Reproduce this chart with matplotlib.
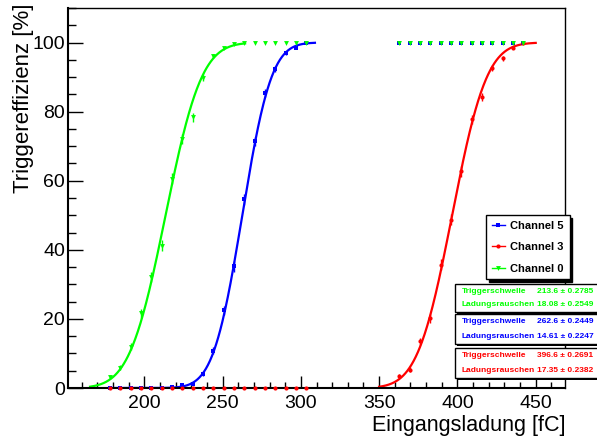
import math
import matplotlib
matplotlib.use("Agg")
import matplotlib.pyplot as plt
from matplotlib.lines import Line2D
from matplotlib.patches import Rectangle
from matplotlib.ticker import MultipleLocator
import numpy as np

plt.rcParams['font.family'] = ['Liberation Sans', 'DejaVu Sans']

# charge steps (fC)
x_low = [178.1, 184.7, 191.3, 197.9, 204.5, 211.1, 217.7, 224.3, 230.9, 237.5,
         244.1, 250.7, 257.3, 263.9, 270.5, 277.1, 283.7, 290.3, 296.9, 303.5]
x_high = [362.8, 369.4, 376.0, 382.6, 389.2, 395.8, 402.4, 409.0, 415.6, 422.2,
          428.8, 435.4, 442.0]

# Channel 5 (blue)
ch5_low = [0, 0, 0, 0, 0, 0, 0.2, 0.8, 1.2, 4.1, 10.8, 22.5, 35.2, 54.7, 71.4,
           85.4, 92.3, 96.9, 98.4, 99.8]
ch5_low_err = [0.1, 0.1, 0.1, 0.1, 0.1, 0.1, 0.2, 0.3, 0.4, 0.6, 1.0, 1.3, 1.5,
               1.6, 1.4, 1.1, 0.8, 0.6, 0.4, 0.2]
ch5_high = [100] * 13

# Channel 3 (red)
ch3_low = [0] * 20
ch3_high = [3.4, 5.3, 13.5, 20.2, 35.7, 48.7, 62.7, 77.8, 84.2, 92.6, 95.5, 98.4, 99.8]
ch3_high_err = [0.6, 0.7, 1.1, 1.3, 1.5, 1.6, 1.5, 1.3, 1.2, 0.8, 0.7, 0.4, 0.2]

# Channel 0 (green)
ch0_low = [3.1, 5.9, 12.0, 21.7, 32.1, 41.2, 60.6, 72.1, 78.4, 89.8, 96.2, 98.4,
           99.6, 100, 100, 100, 100, 100, 100, 100]
ch0_low_err = [0.6, 0.8, 1.0, 1.3, 1.5, 1.6, 1.5, 1.4, 1.3, 1.0, 0.6, 0.4, 0.2,
               0.1, 0.1, 0.1, 0.1, 0.1, 0.1, 0.1]
ch0_high = [100] * 13

# fit results: threshold (mean) and noise (sigma)
labels = ["Channel 5", "Channel 3", "Channel 0"]
colors = ["#0000ff", "#ff0000", "#00ff00"]
thresh = [262.6, 396.6, 213.6]
thresh_err = ["0.2449", "0.2691", "0.2785"]
noise = [14.61, 17.35, 18.08]
noise_err = ["0.2247", "0.2382", "0.2549"]
fit_range = [(178, 309), (350, 450), (165.4, 264.4)]
markers = ["s", "o", "v"]
msizes = [3.5, 3.0, 3.5]


def erf_curve(x, mu, sig):
    return np.array([50 * (1 + math.erf((v - mu) / (math.sqrt(2) * sig))) for v in x])


fig = plt.figure(figsize=(5.97, 4.36), dpi=100)
ax = fig.add_axes([68 / 597, 48 / 436, (565 - 68) / 597, (388 - 8) / 436])

series = [
    (x_low + x_high, ch5_low + ch5_high, ch5_low_err + [0.1] * 13),
    (x_low + x_high, ch3_low + ch3_high, [0.1] * 20 + ch3_high_err),
    (x_low + x_high, ch0_low + ch0_high, ch0_low_err + [0.1] * 13),
]

for i in range(3):
    xs, ys, es = series[i]
    eb = ax.errorbar(xs, ys, yerr=es, fmt=markers[i], color=colors[i], ms=msizes[i],
                     mew=0, elinewidth=1, capsize=1.5, capthick=1, zorder=4 + i)
    eb[0].set_clip_on(False)
    lo, hi = fit_range[i]
    xf = np.linspace(lo, hi, 300)
    ax.plot(xf, erf_curve(xf, thresh[i], noise[i]), color=colors[i], lw=1.6, zorder=2)

ax.set_xlim(151.3, 468.7)
ax.set_ylim(0, 110)
ax.xaxis.set_major_locator(MultipleLocator(50))
ax.xaxis.set_minor_locator(MultipleLocator(10))
ax.yaxis.set_major_locator(MultipleLocator(20))
ax.yaxis.set_minor_locator(MultipleLocator(5))
ax.tick_params(axis='x', which='major', direction='in', length=8.5, width=1,
               labelsize=14, pad=5)
ax.tick_params(axis='x', which='minor', direction='in', length=4, width=1)
ax.tick_params(axis='y', which='major', direction='in', length=11, width=1,
               labelsize=14, pad=2)
ax.tick_params(axis='y', which='minor', direction='in', length=6, width=1)
for s in ax.spines.values():
    s.set_linewidth(1)
    s.set_zorder(3)
ax.spines['bottom'].set_linewidth(1.5)
ax.spines['left'].set_linewidth(1.5)

ax.set_xlabel("Eingangsladung [fC]", fontsize=15.5, ha='right', x=1.0, labelpad=2)
ax.set_ylabel("Triggereffizienz [%]", fontsize=16, ha='right', y=1.013, labelpad=-1)

# legend
handles = [Line2D([0], [0], color=colors[i], marker=markers[i], ms=msizes[i], mew=0, lw=1)
           for i in range(3)]
leg = ax.legend(handles, labels, loc='upper left',
                bbox_to_anchor=(486 / 597, 1 - 215 / 436), bbox_transform=fig.transFigure,
                borderaxespad=0, frameon=True, fancybox=False,
                shadow={'color': 'black', 'alpha': 1},
                prop={'weight': 'bold', 'size': 8}, handlelength=1.2, handletextpad=0.5,
                labelspacing=1.05, borderpad=0.5)
leg.get_frame().set_edgecolor('black')
leg.get_frame().set_linewidth(1)
leg.set_zorder(20)

# fit parameter boxes: top px, bottom px, channel index
boxes = [(284, 312, 2), (314, 344, 0), (348, 378, 1)]
for top, bot, i in boxes:
    fig.patches.append(Rectangle((457 / 597, 1 - (bot + 2) / 436), 150 / 597, (bot - top) / 436,
                                 transform=fig.transFigure, facecolor='black',
                                 edgecolor='none', zorder=20))
    fig.patches.append(Rectangle((455 / 597, 1 - bot / 436), 150 / 597, (bot - top) / 436,
                                 transform=fig.transFigure, facecolor='white',
                                 edgecolor='black', lw=1, zorder=21))
    y1 = 1 - (top + 0.25 * (bot - top)) / 436
    y2 = 1 - (top + 0.74 * (bot - top)) / 436
    kw = dict(transform=fig.transFigure, color=colors[i], fontsize=6, weight='bold',
              va='center', zorder=22)
    fig.text(461.5 / 597, y1, "Triggerschwelle", ha='left', **kw)
    fig.text(461.5 / 597, y2, "Ladungsrauschen", ha='left', **kw)
    fig.text(593.5 / 597, y1, f"{thresh[i]:.1f} \u00b1 {thresh_err[i]}", ha='right', **kw)
    fig.text(593.5 / 597, y2, f"{noise[i]:.2f} \u00b1 {noise_err[i]}", ha='right', **kw)

fig.savefig("out.png", dpi=100)
